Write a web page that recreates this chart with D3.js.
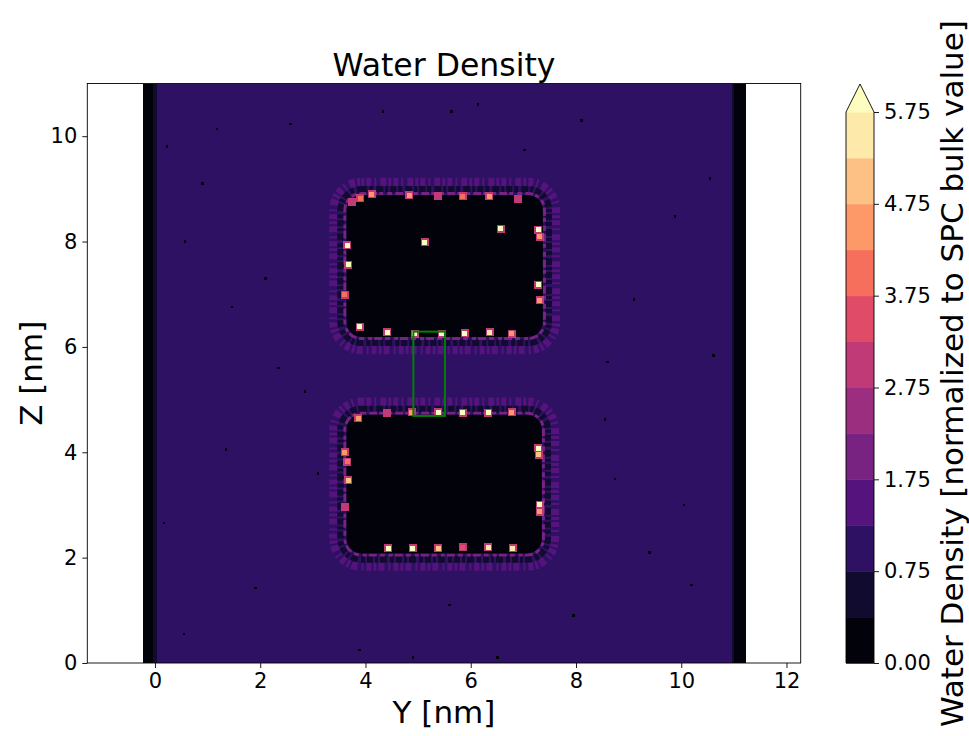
<!DOCTYPE html>
<html>
<head>
<meta charset="utf-8">
<script src="https://cdn.jsdelivr.net/npm/d3@7"></script>
<style>
  html, body { margin: 0; padding: 0; background: #fff; }
  svg { display: block; font-family: "DejaVu Sans", sans-serif; }
</style>
</head>
<body>
<svg id="chart" width="969" height="736"></svg>
<script>
// ---------------- DATA ----------------
// contour levels of the colour map (density normalised to SPC bulk value)
const levels = [0, 0.25, 0.75, 1.25, 1.75, 2.25, 2.75, 3.25, 3.75, 4.25, 4.75, 5.25, 5.75];
const colorbarTicks = [0, 0.75, 1.75, 2.75, 3.75, 4.75, 5.75];
const xTicks = [0, 2, 4, 6, 8, 10, 12];
const yTicks = [0, 2, 4, 6, 8, 10];
const xDomain = [-1.286, 12.27];
const yDomain = [0, 11];

// bulk water slab
const bulkY = [0, 11];
const bulkZ = [0, 11];
const bulkDensity = 1.0;

// walls at both ends of the box
const wallY0 = [-0.23, -0.03, 10.97, 11.0];
const wallY1 = [-0.03, 0.03, 11.03, 11.23];
const wallDensity = [0, 0.5, 0.5, 0];

// two solid blocks (no water inside)
const blockY0 = [3.64, 3.64];
const blockY1 = [7.37, 7.35];
const blockZ0 = [6.19, 2.08];
const blockZ1 = [8.88, 4.71];
const blockCorner = 0.28;

// hydration layers around each block: distance from surface (nm), thickness (nm), density
const layerDist = [0.25, 0.11, 0.03];
const layerThick = [0.16, 0.13, 0.06];
const layerDensity = [1.5, 0.5, 2.0];

// adsorption hot spots on block surfaces
const spotY = [3.74, 3.90, 4.12, 4.83, 5.38, 5.85, 6.35, 6.90, 5.13, 6.57, 3.65, 3.67, 3.61, 3.89,
               7.28, 7.31, 7.28, 7.31, 4.41, 4.94, 5.45, 5.89, 6.36, 6.78,
               3.86, 4.41, 4.88, 5.38, 5.85, 6.33, 6.78, 3.61, 3.65, 3.67, 3.61,
               7.28, 7.29, 7.31, 7.31, 4.43, 4.90, 5.38, 5.85, 6.33, 6.80];
const spotZ = [8.75, 8.82, 8.90, 8.88, 8.86, 8.86, 8.86, 8.81, 7.99, 8.24, 7.93, 7.56, 6.99, 6.38,
               8.22, 8.09, 7.18, 6.89, 6.28, 6.25, 6.25, 6.26, 6.28, 6.25,
               4.65, 4.75, 4.76, 4.76, 4.75, 4.75, 4.76, 4.00, 3.82, 3.47, 2.96,
               4.08, 3.95, 3.00, 2.87, 2.18, 2.18, 2.18, 2.20, 2.20, 2.18];
const spotDensity = [3.0, 4.0, 4.5, 4.5, 3.0, 4.0, 4.5, 3.0, 6.0, 6.0, 6.0, 6.0, 4.0, 6.0,
                     6.0, 4.5, 6.0, 4.5, 6.0, 6.0, 6.0, 6.0, 5.5, 4.5,
                     4.5, 3.0, 4.5, 6.0, 6.0, 6.0, 4.5, 4.5, 4.0, 5.0, 3.0,
                     6.0, 5.0, 6.0, 4.5, 6.0, 6.0, 5.0, 3.5, 5.5, 5.5];

// isolated empty cells in the bulk
const speckY = [1.18, 2.57, 4.33, 5.64, 7.02, 0.23, 0.57, 1.46, 8.60, 10.61, 1.35, 4.90, 8.74, 10.20,
                0.17, 1.91, 3.89, 8.55, 9.88, 2.85, 6.14, 9.40, 0.55, 10.55, 6.51, 2.10, 3.10, 9.10,
                7.95, 0.90, 5.60, 10.05, 2.35, 8.10];
const speckZ = [10.14, 10.23, 10.47, 10.47, 9.74, 9.80, 8.00, 6.76, 5.71, 5.84, 4.05, 0.10, 3.49, 1.48,
                2.66, 1.42, 0.25, 4.62, 8.47, 5.15, 10.60, 2.10, 0.55, 9.20, 0.10, 7.30, 3.60, 6.90,
                0.90, 9.10, 1.10, 3.00, 5.60, 10.30];

// highlighted channel region
const channelY = [4.91, 5.51];
const channelZ = [4.69, 6.29];

// ---------------- DRAWING ----------------
const svg = d3.select("#chart");
const plot = { left: 87.3, right: 800.7, top: 83.5, bottom: 663 };
const x = d3.scaleLinear().domain(xDomain).range([plot.left, plot.right]);
const y = d3.scaleLinear().domain(yDomain).range([plot.bottom, plot.top]);
const pxPerNm = x(1) - x(0);

const vmax = levels[levels.length - 1];
const bandColors = d3.range(levels.length - 1).map(i =>
  d3.interpolateMagma(((levels[i] + levels[i + 1]) / 2) / vmax));
const overColor = d3.interpolateMagma(1);
const color = d3.scaleThreshold().domain(levels.slice(1)).range(bandColors.concat([overColor]));

svg.append("defs").append("clipPath").attr("id", "clip")
  .append("rect").attr("x", plot.left).attr("y", plot.top)
  .attr("width", plot.right - plot.left).attr("height", plot.bottom - plot.top);

const g = svg.append("g").attr("clip-path", "url(#clip)").attr("shape-rendering", "crispEdges");

// bulk
g.append("rect")
  .attr("x", x(bulkY[0])).attr("y", y(bulkZ[1]))
  .attr("width", x(bulkY[1]) - x(bulkY[0]))
  .attr("height", y(bulkZ[0]) - y(bulkZ[1]))
  .attr("fill", color(bulkDensity));

// walls
g.selectAll("rect.wall").data(wallY0.map((d, i) => i)).join("rect")
  .attr("class", "wall")
  .attr("x", i => x(wallY0[i])).attr("y", y(bulkZ[1]))
  .attr("width", i => x(wallY1[i]) - x(wallY0[i]))
  .attr("height", y(bulkZ[0]) - y(bulkZ[1]))
  .attr("fill", i => color(wallDensity[i]));

// specks
g.selectAll("rect.speck").data(speckY.map((d, i) => i)).join("rect")
  .attr("class", "speck")
  .attr("x", i => x(speckY[i]) - 1.3).attr("y", i => y(speckZ[i]) - 1.3)
  .attr("width", 2.6).attr("height", 2.6)
  .attr("fill", color(0));

// blocks with hydration layers (mottled bands drawn as broken strokes)
const dashes = ["3 2 5 3 2 4 6 2", "6 2 4 3 7 2 3 2", "5 3 8 2 4 4"];
blockY0.forEach((b, k) => {
  const layers = layerDist.map((r, j) => ({ dist: r, thick: layerThick[j], dens: layerDensity[j], dash: dashes[j] }));
  g.selectAll(null).data(layers).join("rect")
    .attr("shape-rendering", "auto")
    .attr("x", d => x(blockY0[k] - d.dist))
    .attr("y", d => y(blockZ1[k] + d.dist))
    .attr("width", d => x(blockY1[k] + d.dist) - x(blockY0[k] - d.dist))
    .attr("height", d => y(blockZ0[k] - d.dist) - y(blockZ1[k] + d.dist))
    .attr("rx", d => (blockCorner + d.dist) * pxPerNm)
    .attr("fill", "none")
    .attr("stroke", d => color(d.dens))
    .attr("stroke-width", d => d.thick * pxPerNm)
    .attr("stroke-dasharray", d => d.dash);
  g.append("rect")
    .attr("shape-rendering", "auto")
    .attr("x", x(blockY0[k])).attr("y", y(blockZ1[k]))
    .attr("width", x(blockY1[k]) - x(blockY0[k]))
    .attr("height", y(blockZ0[k]) - y(blockZ1[k]))
    .attr("rx", blockCorner * pxPerNm)
    .attr("fill", color(0));
});

// hot spots
const spots = spotY.map((d, i) => i);
g.selectAll("rect.glow").data(spots).join("rect")
  .attr("class", "glow")
  .attr("x", i => x(spotY[i]) - 4).attr("y", i => y(spotZ[i]) - 4)
  .attr("width", 8).attr("height", 8)
  .attr("fill", color(3.0));
g.selectAll("rect.spot").data(spots).join("rect")
  .attr("class", "spot")
  .attr("x", i => x(spotY[i]) - 2.5).attr("y", i => y(spotZ[i]) - 2.5)
  .attr("width", 5).attr("height", 5)
  .attr("fill", i => color(spotDensity[i]));

// channel box
svg.append("rect")
  .attr("clip-path", "url(#clip)")
  .attr("x", x(channelY[0])).attr("y", y(channelZ[1]))
  .attr("width", x(channelY[1]) - x(channelY[0]))
  .attr("height", y(channelZ[0]) - y(channelZ[1]))
  .attr("fill", "none").attr("stroke", "#008000").attr("stroke-width", 2);

// frame
svg.append("rect")
  .attr("x", plot.left).attr("y", plot.top)
  .attr("width", plot.right - plot.left).attr("height", plot.bottom - plot.top)
  .attr("fill", "none").attr("stroke", "#000").attr("stroke-width", 0.9);

// axes
const xAxis = svg.append("g").attr("transform", `translate(0,${plot.bottom})`)
  .call(d3.axisBottom(x).tickValues(xTicks).tickSize(5).tickPadding(5).tickFormat(d3.format("d")));
const yAxis = svg.append("g").attr("transform", `translate(${plot.left},0)`)
  .call(d3.axisLeft(y).tickValues(yTicks).tickSize(5).tickPadding(5).tickFormat(d3.format("d")));
[xAxis, yAxis].forEach(a => {
  a.select(".domain").remove();
  a.selectAll(".tick line").attr("stroke", "#000").attr("stroke-width", 0.9);
  a.selectAll(".tick text").attr("font-size", 21).attr("fill", "#000")
    .attr("font-family", "DejaVu Sans, sans-serif");
});

// labels
svg.append("text").attr("x", (plot.left + plot.right) / 2).attr("y", 76)
  .attr("text-anchor", "middle").attr("font-size", 31.5).text("Water Density");
svg.append("text").attr("x", (plot.left + plot.right) / 2).attr("y", 723)
  .attr("text-anchor", "middle").attr("font-size", 31).text("Y [nm]");
svg.append("text").attr("transform", `translate(42,${(plot.top + plot.bottom) / 2}) rotate(-90)`)
  .attr("text-anchor", "middle").attr("font-size", 31).text("Z [nm]");

// colorbar
const cb = { left: 846, right: 874, top: 112, bottom: 663, apex: 84 };
const nb = levels.length - 1;
const cbY = d3.scaleLinear().domain(levels)
  .range(levels.map((d, i) => cb.bottom - i * (cb.bottom - cb.top) / nb));
svg.selectAll("rect.band").data(d3.range(nb)).join("rect")
  .attr("class", "band")
  .attr("x", cb.left).attr("width", cb.right - cb.left)
  .attr("y", i => cbY(levels[i + 1])).attr("height", i => cbY(levels[i]) - cbY(levels[i + 1]) + 0.5)
  .attr("fill", i => bandColors[i]);
svg.append("path")
  .attr("d", `M${cb.left},${cb.top + 0.5}L${(cb.left + cb.right) / 2},${cb.apex}L${cb.right},${cb.top + 0.5}Z`)
  .attr("fill", overColor);
svg.append("path")
  .attr("d", `M${cb.left},${cb.bottom}L${cb.left},${cb.top}L${(cb.left + cb.right) / 2},${cb.apex}L${cb.right},${cb.top}L${cb.right},${cb.bottom}Z`)
  .attr("fill", "none").attr("stroke", "#000").attr("stroke-width", 0.9);
const cAxis = svg.append("g").attr("transform", `translate(${cb.right},0)`)
  .call(d3.axisRight(cbY).tickValues(colorbarTicks).tickSize(5).tickPadding(5).tickFormat(d3.format(".2f")));
cAxis.select(".domain").remove();
cAxis.selectAll(".tick line").attr("stroke", "#000").attr("stroke-width", 0.9);
cAxis.selectAll(".tick text").attr("font-size", 21).attr("fill", "#000")
  .attr("font-family", "DejaVu Sans, sans-serif");
svg.append("text").attr("transform", `translate(963,${(cb.apex + cb.bottom) / 2}) rotate(-90)`)
  .attr("text-anchor", "middle").attr("font-size", 31)
  .text("Water Density [normalized to SPC bulk value]");
</script>
</body>
</html>
